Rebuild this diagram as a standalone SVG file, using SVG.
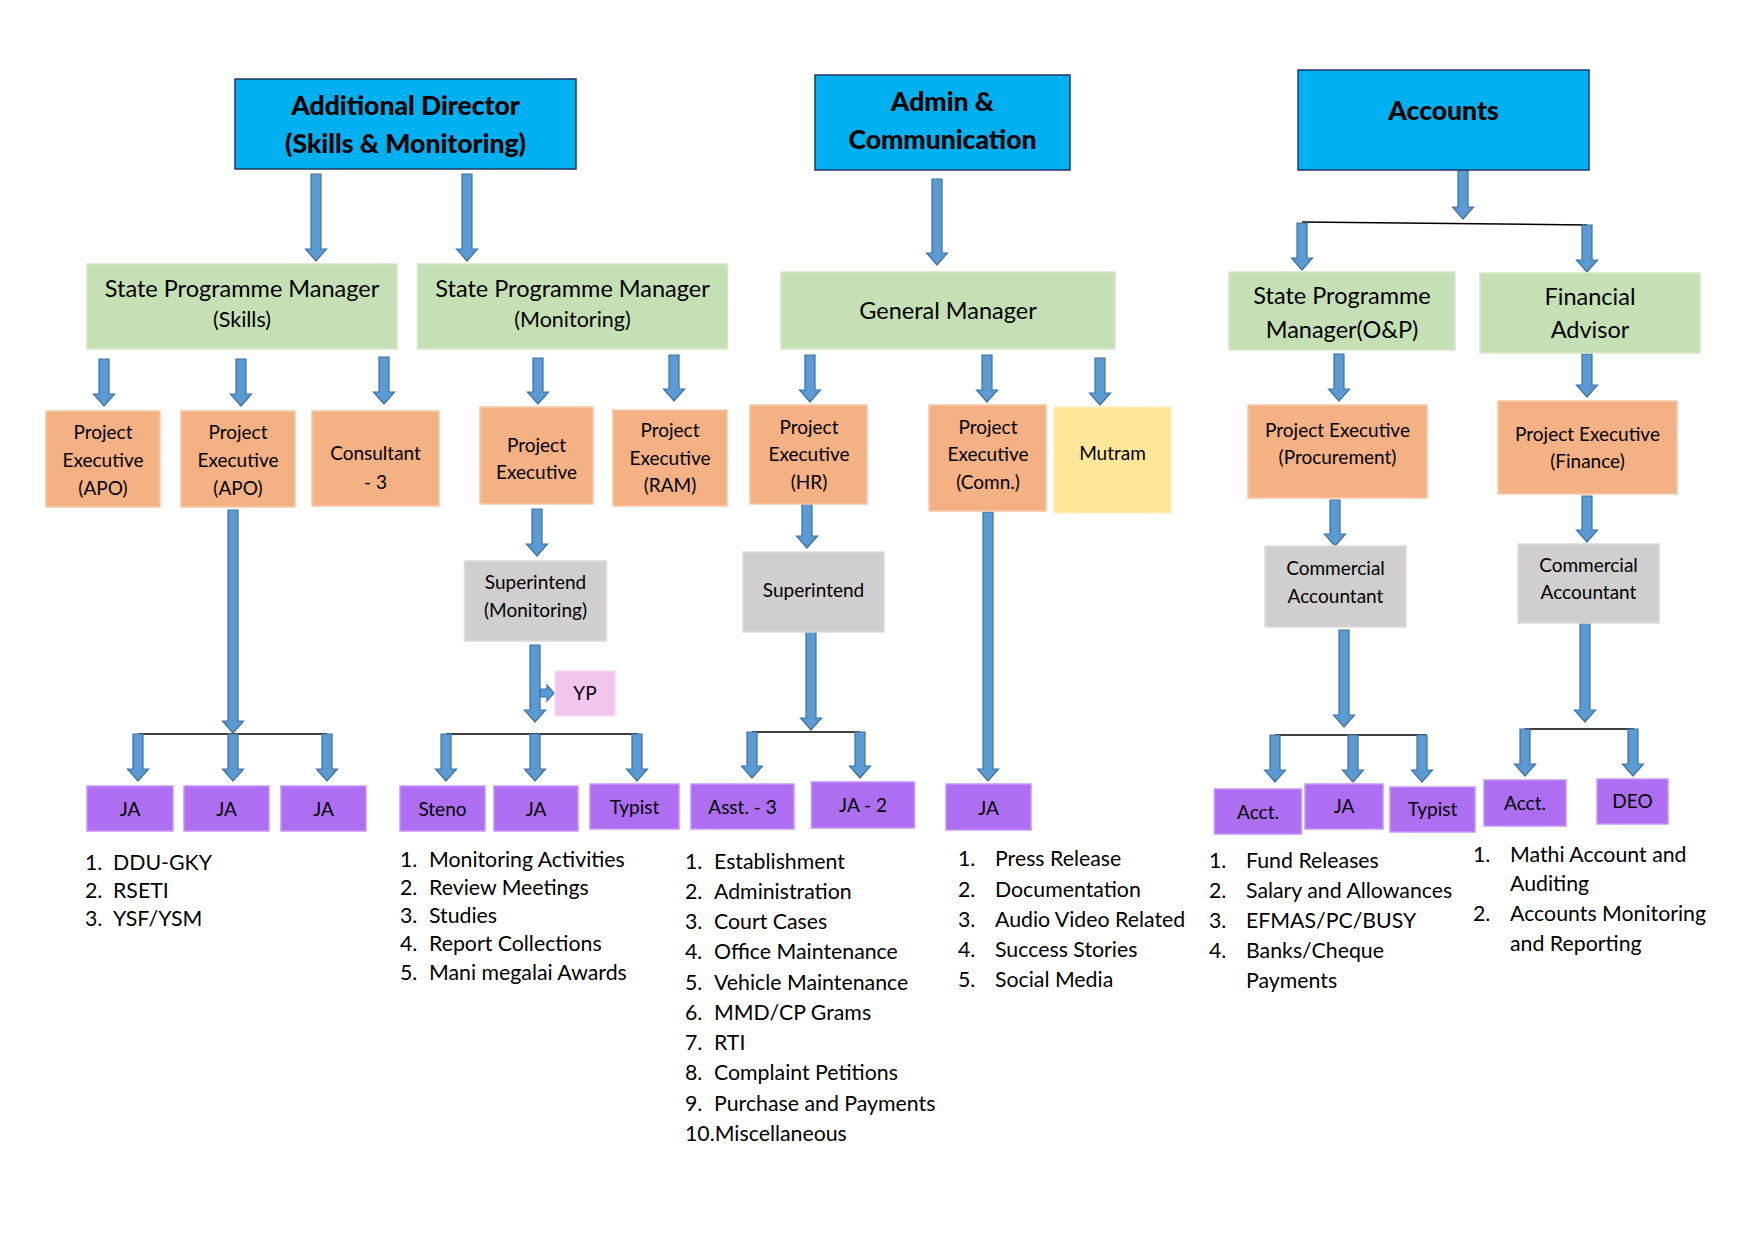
<svg xmlns="http://www.w3.org/2000/svg" width="1755" height="1241" viewBox="0 0 1755 1241">
<style>
text{font-family:Lato,"Open Sans","Liberation Sans",sans-serif;fill:#000}
.top{fill:#00B0F0;stroke:#1F3864;stroke-width:1.5}
.top-t{font-size:26.5px;font-weight:900;text-anchor:middle}
.grn{fill:#C5E0B4;stroke:#D5E8C8;stroke-width:1.5}
.grn-t{font-size:23.5px;text-anchor:middle}
.org{fill:#F4B183;stroke:#F8C9A7;stroke-width:1.5}
.yel{fill:#FFE699;stroke:#FFF0BF;stroke-width:1.5}
.gry{fill:#D0CECE;stroke:#DDDBDB;stroke-width:1.5}
.pnk{fill:#F2C6EC;stroke:#F7DDF3;stroke-width:1.5}
.pur{fill:#AE6EF2;stroke:#C597F5;stroke-width:1.5}
.box-t{font-size:19px;text-anchor:middle}
.lst{font-size:21.3px}
.arr{fill:#5B9BD5;stroke:#41719C;stroke-width:1.2;stroke-linejoin:miter}
.ln{fill:none;stroke:#000;stroke-width:1.5}
</style>
<rect width="1755" height="1241" fill="#fff"/>

<g id="connectors">
<path class="ln" d="M1302 222 L1587 225"/>
<path class="ln" d="M138 734 H327"/>
<path class="ln" d="M446 734 H638"/>
<path class="ln" d="M752 732 H860"/>
<path class="ln" d="M1275 735 H1426"/>
<path class="ln" d="M1525 729 H1634"/>
<path class="arr" d="M311 174 H321 V249 H326.5 L316 261 L305.5 249 H311 Z"/>
<path class="arr" d="M462 174 H472 V249 H477.5 L467 261 L456.5 249 H462 Z"/>
<path class="arr" d="M932 179 H942 V253 H947.5 L937 265 L926.5 253 H932 Z"/>
<path class="arr" d="M1458 170 H1468 V207 H1473.5 L1463 219 L1452.5 207 H1458 Z"/>
<path class="arr" d="M1297 223 H1307 V258 H1312.5 L1302 270 L1291.5 258 H1297 Z"/>
<path class="arr" d="M1582 225 H1592 V260 H1597.5 L1587 272 L1576.5 260 H1582 Z"/>
<path class="arr" d="M99 359 H109 V394 H114.5 L104 406 L93.5 394 H99 Z"/>
<path class="arr" d="M236 359 H246 V394 H251.5 L241 406 L230.5 394 H236 Z"/>
<path class="arr" d="M379 357 H389 V392 H394.5 L384 404 L373.5 392 H379 Z"/>
<path class="arr" d="M533 358 H543 V392 H548.5 L538 404 L527.5 392 H533 Z"/>
<path class="arr" d="M669 355 H679 V389 H684.5 L674 401 L663.5 389 H669 Z"/>
<path class="arr" d="M805 355 H815 V390 H820.5 L810 402 L799.5 390 H805 Z"/>
<path class="arr" d="M982 355 H992 V390 H997.5 L987 402 L976.5 390 H982 Z"/>
<path class="arr" d="M1095 358 H1105 V393 H1110.5 L1100 405 L1089.5 393 H1095 Z"/>
<path class="arr" d="M1334 354 H1344 V389 H1349.5 L1339 401 L1328.5 389 H1334 Z"/>
<path class="arr" d="M1582 354 H1592 V385 H1597.5 L1587 397 L1576.5 385 H1582 Z"/>
<path class="arr" d="M532 509 H542 V544 H547.5 L537 556 L526.5 544 H532 Z"/>
<path class="arr" d="M802 504 H812 V536 H817.5 L807 548 L796.5 536 H802 Z"/>
<path class="arr" d="M1330 500 H1340 V534 H1345.5 L1335 546 L1324.5 534 H1330 Z"/>
<path class="arr" d="M1582 496 H1592 V530 H1597.5 L1587 542 L1576.5 530 H1582 Z"/>
<path class="arr" d="M228 510 H238 V721 H243.5 L233 733 L222.5 721 H228 Z"/>
<path class="arr" d="M530 645 H540 V710 H545.5 L535 722 L524.5 710 H530 Z"/>
<path class="arr" d="M540 689 H547 V685 L554 693 L547 701 V697 H540 Z"/>
<path class="arr" d="M806 632 H816 V718 H821.5 L811 730 L800.5 718 H806 Z"/>
<path class="arr" d="M983 512 H993 V769 H998.5 L988 781 L977.5 769 H983 Z"/>
<path class="arr" d="M1339 630 H1349 V715 H1354.5 L1344 727 L1333.5 715 H1339 Z"/>
<path class="arr" d="M1580 623 H1590 V710 H1595.5 L1585 722 L1574.5 710 H1580 Z"/>
<path class="arr" d="M133 734 H143 V769 H148.5 L138 781 L127.5 769 H133 Z"/>
<path class="arr" d="M228 734 H238 V769 H243.5 L233 781 L222.5 769 H228 Z"/>
<path class="arr" d="M322 734 H332 V769 H337.5 L327 781 L316.5 769 H322 Z"/>
<path class="arr" d="M441 734 H451 V769 H456.5 L446 781 L435.5 769 H441 Z"/>
<path class="arr" d="M530 734 H540 V769 H545.5 L535 781 L524.5 769 H530 Z"/>
<path class="arr" d="M632 734 H642 V769 H647.5 L637 781 L626.5 769 H632 Z"/>
<path class="arr" d="M747 732 H757 V766 H762.5 L752 778 L741.5 766 H747 Z"/>
<path class="arr" d="M855 732 H865 V766 H870.5 L860 778 L849.5 766 H855 Z"/>
<path class="arr" d="M1270 735 H1280 V770 H1285.5 L1275 782 L1264.5 770 H1270 Z"/>
<path class="arr" d="M1348 735 H1358 V770 H1363.5 L1353 782 L1342.5 770 H1348 Z"/>
<path class="arr" d="M1417 735 H1427 V770 H1432.5 L1422 782 L1411.5 770 H1417 Z"/>
<path class="arr" d="M1520 729 H1530 V764 H1535.5 L1525 776 L1514.5 764 H1520 Z"/>
<path class="arr" d="M1628 729 H1638 V764 H1643.5 L1633 776 L1622.5 764 H1628 Z"/>
</g>

<g id="additional-director"><rect class="top" x="235" y="79" width="341" height="90"/>
<text class="top-t" x="405.5" y="115">Additional Director</text><text class="top-t" x="405.5" y="153">(Skills &amp; Monitoring)</text></g>
<g id="admin-communication"><rect class="top" x="815" y="75" width="255" height="95"/>
<text class="top-t" x="942.5" y="111">Admin &amp;</text><text class="top-t" x="942.5" y="149">Communication</text></g>
<g id="accounts"><rect class="top" x="1298" y="70" width="291" height="100"/>
<text class="top-t" x="1443.5" y="120">Accounts</text></g>

<g id="spm-skills"><rect class="grn" x="87" y="264" width="310" height="85"/>
<text class="grn-t" x="242" y="296.5">State Programme Manager</text><text class="grn-t" x="242" y="327" style="font-size:21.5px">(Skills)</text></g>
<g id="spm-monitoring"><rect class="grn" x="417.5" y="264" width="310" height="85"/>
<text class="grn-t" x="572.5" y="296.5">State Programme Manager</text><text class="grn-t" x="572.5" y="327" style="font-size:21.5px">(Monitoring)</text></g>
<g id="general-manager"><rect class="grn" x="781" y="272" width="334" height="77"/>
<text class="grn-t" x="948" y="318.5">General Manager</text></g>
<g id="spm-op"><rect class="grn" x="1229" y="272" width="226" height="78"/>
<text class="grn-t" x="1342" y="304">State Programme</text><text class="grn-t" x="1342" y="337.5">Manager(O&amp;P)</text></g>
<g id="financial-advisor"><rect class="grn" x="1480" y="273" width="220" height="80"/>
<text class="grn-t" x="1590" y="305">Financial</text><text class="grn-t" x="1590" y="337.5">Advisor</text></g>

<g id="pe-apo-1"><rect class="org" x="46" y="411" width="114" height="96"/>
<text class="box-t" x="103" y="438.5">Project</text><text class="box-t" x="103" y="466.5">Executive</text><text class="box-t" x="103" y="494.5">(APO)</text></g>
<g id="pe-apo-2"><rect class="org" x="181" y="411" width="114" height="96"/>
<text class="box-t" x="238" y="438.5">Project</text><text class="box-t" x="238" y="466.5">Executive</text><text class="box-t" x="238" y="494.5">(APO)</text></g>
<g id="consultant"><rect class="org" x="312" y="411" width="127" height="95"/>
<text class="box-t" x="375.5" y="459.5">Consultant</text><text class="box-t" x="375.5" y="488.5">- 3</text></g>
<g id="pe-monitoring"><rect class="org" x="480" y="407" width="113" height="97"/>
<text class="box-t" x="536.5" y="452">Project</text><text class="box-t" x="536.5" y="478.5">Executive</text></g>
<g id="pe-ram"><rect class="org" x="613" y="410" width="114" height="96"/>
<text class="box-t" x="670" y="436.5">Project</text><text class="box-t" x="670" y="464.5">Executive</text><text class="box-t" x="670" y="491.5">(RAM)</text></g>
<g id="pe-hr"><rect class="org" x="750" y="405" width="117" height="99"/>
<text class="box-t" x="809" y="434">Project</text><text class="box-t" x="809" y="461">Executive</text><text class="box-t" x="809" y="489">(HR)</text></g>
<g id="pe-comn"><rect class="org" x="929" y="405" width="117" height="106"/>
<text class="box-t" x="988" y="434">Project</text><text class="box-t" x="988" y="461">Executive</text><text class="box-t" x="988" y="489">(Comn.)</text></g>
<g id="mutram"><rect class="yel" x="1054" y="407" width="117" height="106"/>
<text class="box-t" x="1112.5" y="459.5">Mutram</text></g>
<g id="pe-procurement"><rect class="org" x="1248" y="405" width="179" height="93"/>
<text class="box-t" x="1337.5" y="436.5">Project Executive</text><text class="box-t" x="1337.5" y="463.5">(Procurement)</text></g>
<g id="pe-finance"><rect class="org" x="1498" y="401" width="179" height="93"/>
<text class="box-t" x="1587.5" y="440.5">Project Executive</text><text class="box-t" x="1587.5" y="467.5">(Finance)</text></g>

<g id="superintend-monitoring"><rect class="gry" x="464.5" y="561" width="142" height="80"/>
<text class="box-t" x="535.5" y="588.5">Superintend</text><text class="box-t" x="535.5" y="616.5">(Monitoring)</text></g>
<g id="superintend"><rect class="gry" x="743" y="552" width="141" height="80"/>
<text class="box-t" x="813.5" y="596.5">Superintend</text></g>
<g id="commercial-accountant-1"><rect class="gry" x="1265" y="546" width="141" height="81"/>
<text class="box-t" x="1335.5" y="575">Commercial</text><text class="box-t" x="1335.5" y="603">Accountant</text></g>
<g id="commercial-accountant-2"><rect class="gry" x="1518" y="544" width="141" height="79"/>
<text class="box-t" x="1588.5" y="571.5">Commercial</text><text class="box-t" x="1588.5" y="598.5">Accountant</text></g>
<g id="yp"><rect class="pnk" x="555" y="671" width="60" height="45"/>
<text class="box-t" x="585" y="699.5">YP</text></g>

<g id="ja-s1"><rect class="pur" x="87" y="786" width="86" height="45"/><text class="box-t" x="130" y="815.5">JA</text></g>
<g id="ja-s2"><rect class="pur" x="184" y="786" width="85" height="45"/><text class="box-t" x="226.5" y="815.5">JA</text></g>
<g id="ja-s3"><rect class="pur" x="281" y="786" width="85" height="45"/><text class="box-t" x="323.5" y="815.5">JA</text></g>
<g id="steno"><rect class="pur" x="400" y="786" width="85" height="45"/><text class="box-t" x="442.5" y="815.5">Steno</text></g>
<g id="ja-m"><rect class="pur" x="494" y="786" width="84" height="45"/><text class="box-t" x="536" y="815.5">JA</text></g>
<g id="typist-m"><rect class="pur" x="590" y="784" width="89" height="45"/><text class="box-t" x="634.5" y="813.5">Typist</text></g>
<g id="asst-3"><rect class="pur" x="691" y="784" width="103" height="45"/><text class="box-t" x="742.5" y="813.5">Asst. - 3</text></g>
<g id="ja-2"><rect class="pur" x="811.5" y="782" width="103" height="46"/><text class="box-t" x="863" y="811.5">JA - 2</text></g>
<g id="ja-c"><rect class="pur" x="946" y="784" width="85" height="46"/><text class="box-t" x="988.5" y="814.5">JA</text></g>
<g id="acct-1"><rect class="pur" x="1214.5" y="789" width="87" height="45"/><text class="box-t" x="1258" y="818.5">Acct.</text></g>
<g id="ja-a"><rect class="pur" x="1305" y="784" width="78" height="45"/><text class="box-t" x="1344" y="812.5">JA</text></g>
<g id="typist-a"><rect class="pur" x="1390" y="787" width="85" height="45"/><text class="box-t" x="1432.5" y="815.5">Typist</text></g>
<g id="acct-2"><rect class="pur" x="1484" y="780" width="82" height="46"/><text class="box-t" x="1525" y="809.5">Acct.</text></g>
<g id="deo"><rect class="pur" x="1597" y="779" width="71" height="45"/><text class="box-t" x="1632.5" y="807.5">DEO</text></g>

<g id="list-skills">
<text class="lst" x="85" y="869.5">1.</text><text class="lst" x="113" y="869.5">DDU-GKY</text>
<text class="lst" x="85" y="897.5">2.</text><text class="lst" x="113" y="897.5">RSETI</text>
<text class="lst" x="85" y="925.5">3.</text><text class="lst" x="113" y="925.5">YSF/YSM</text>
</g>
<g id="list-monitoring">
<text class="lst" x="400" y="867">1.</text><text class="lst" x="429" y="867">Monitoring Activities</text>
<text class="lst" x="400" y="895">2.</text><text class="lst" x="429" y="895">Review Meetings</text>
<text class="lst" x="400" y="923">3.</text><text class="lst" x="429" y="923">Studies</text>
<text class="lst" x="400" y="951">4.</text><text class="lst" x="429" y="951">Report Collections</text>
<text class="lst" x="400" y="980">5.</text><text class="lst" x="429" y="980">Mani megalai Awards</text>
</g>
<g id="list-admin">
<text class="lst" x="685" y="868.5">1.</text><text class="lst" x="714" y="868.5">Establishment</text>
<text class="lst" x="685" y="898.5">2.</text><text class="lst" x="714" y="898.5">Administration</text>
<text class="lst" x="685" y="929">3.</text><text class="lst" x="714" y="929">Court Cases</text>
<text class="lst" x="685" y="959">4.</text><text class="lst" x="714" y="959">Office Maintenance</text>
<text class="lst" x="685" y="989.5">5.</text><text class="lst" x="714" y="989.5">Vehicle Maintenance</text>
<text class="lst" x="685" y="1019.5">6.</text><text class="lst" x="714" y="1019.5">MMD/CP Grams</text>
<text class="lst" x="685" y="1049.5">7.</text><text class="lst" x="714" y="1049.5">RTI</text>
<text class="lst" x="685" y="1079.5">8.</text><text class="lst" x="714" y="1079.5">Complaint Petitions</text>
<text class="lst" x="685" y="1110.5">9.</text><text class="lst" x="714" y="1110.5">Purchase and Payments</text>
<text class="lst" x="685" y="1140.5">10.Miscellaneous</text>
</g>
<g id="list-comn">
<text class="lst" x="958" y="866">1.</text><text class="lst" x="995" y="866">Press Release</text>
<text class="lst" x="958" y="896.5">2.</text><text class="lst" x="995" y="896.5">Documentation</text>
<text class="lst" x="958" y="926.5">3.</text><text class="lst" x="995" y="926.5">Audio Video Related</text>
<text class="lst" x="958" y="956.5">4.</text><text class="lst" x="995" y="956.5">Success Stories</text>
<text class="lst" x="958" y="986.5">5.</text><text class="lst" x="995" y="986.5">Social Media</text>
</g>
<g id="list-accounts-1">
<text class="lst" x="1209" y="867.5">1.</text><text class="lst" x="1246" y="867.5">Fund Releases</text>
<text class="lst" x="1209" y="897.5">2.</text><text class="lst" x="1246" y="897.5">Salary and Allowances</text>
<text class="lst" x="1209" y="927.5">3.</text><text class="lst" x="1246" y="927.5">EFMAS/PC/BUSY</text>
<text class="lst" x="1209" y="957.5">4.</text><text class="lst" x="1246" y="957.5">Banks/Cheque</text>
<text class="lst" x="1246" y="988">Payments</text>
</g>
<g id="list-accounts-2">
<text class="lst" x="1473" y="861.5">1.</text><text class="lst" x="1510" y="861.5">Mathi Account and</text>
<text class="lst" x="1510" y="890.5">Auditing</text>
<text class="lst" x="1473" y="920.5">2.</text><text class="lst" x="1510" y="920.5">Accounts Monitoring</text>
<text class="lst" x="1510" y="951">and Reporting</text>
</g>
</svg>
